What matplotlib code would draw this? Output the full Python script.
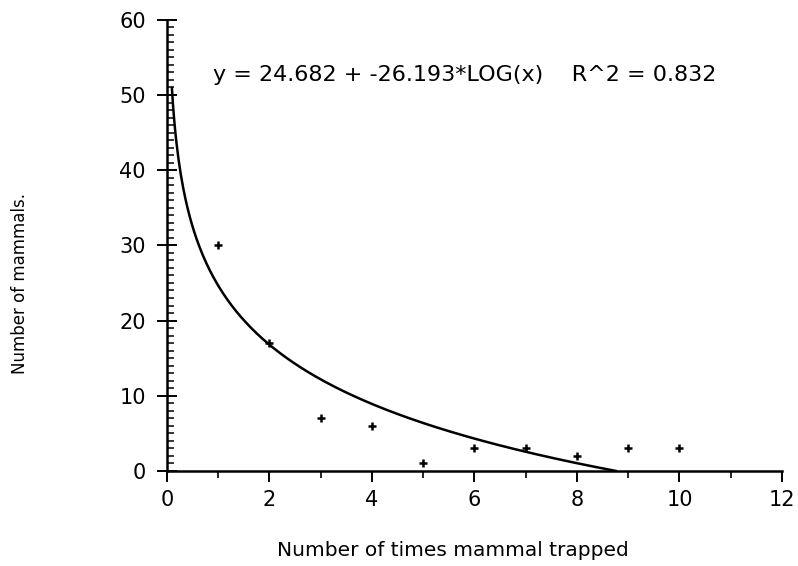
import numpy as np
import matplotlib.pyplot as plt
from matplotlib.ticker import MultipleLocator

# data
vezes = [1, 2, 3, 4, 5, 6, 7, 8, 9, 10]
mamiferos = [30, 17, 7, 6, 1, 3, 3, 2, 3, 3]

# fitted curve y = a + b*log10(x)
a = 24.682
b = -26.193
r2 = 0.832

fig = plt.figure(figsize=(7.98, 5.66), dpi=100)
ax = fig.add_axes([0.209, 0.168, 0.771, 0.797])

x_fit = np.linspace(0.1, 10 ** (-a / b), 400)
y_fit = a + b * np.log10(x_fit)
ax.plot(x_fit, y_fit, color='black', lw=1.8)
ax.plot(vezes, mamiferos, '+', color='black', ms=6, mew=1.8)

ax.set_xlim(0, 12)
ax.set_ylim(0, 60)
ax.xaxis.set_major_locator(MultipleLocator(2))
ax.xaxis.set_minor_locator(MultipleLocator(1))
ax.yaxis.set_major_locator(MultipleLocator(10))
ax.yaxis.set_minor_locator(MultipleLocator(1))

ax.spines['top'].set_visible(False)
ax.spines['right'].set_visible(False)
ax.spines['left'].set_linewidth(1.8)
ax.spines['bottom'].set_linewidth(1.8)
ax.tick_params(axis='x', which='major', direction='out', length=8, width=1.4, labelsize=15, pad=6)
ax.tick_params(axis='x', which='minor', direction='out', length=5, width=1.2)
ax.tick_params(axis='y', which='major', direction='inout', length=14, width=1.4, labelsize=15, pad=8)
ax.tick_params(axis='y', which='minor', direction='in', length=5, width=1.1)

ax.text(0.485, 0.878, f"y = {a} + {b}*LOG(x)    R^2 = {r2}",
        transform=ax.transAxes, ha='center', va='center', fontsize=16)

fig.text(0.567, 0.027, 'Number of times mammal trapped', ha='center', va='center', fontsize=14.5)
fig.text(0.025, 0.50, 'Number of mammals.', rotation=90, ha='center', va='center', fontsize=12)

fig.savefig('out.png', dpi=100)
